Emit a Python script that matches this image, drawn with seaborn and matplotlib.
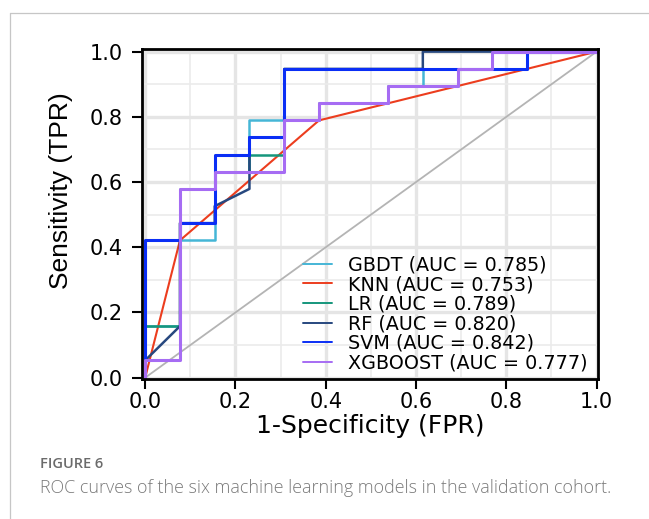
import matplotlib
matplotlib.use("Agg")
import matplotlib.pyplot as plt
import seaborn as sns
import numpy as np
import pandas as pd
from matplotlib import font_manager as fm
from matplotlib.lines import Line2D
from matplotlib.ticker import MultipleLocator

# ROC points (1-specificity, sensitivity) for each model on the validation cohort
models = ["GBDT", "KNN", "LR", "RF", "SVM", "XGBOOST"]
auc_values = [0.785, 0.753, 0.789, 0.820, 0.842, 0.777]

gbdt_fpr = [0, 0, 0.077, 0.077, 0.154, 0.154, 0.231, 0.231, 0.385, 0.385, 0.538, 0.538, 0.615, 0.615, 0.846, 0.846, 1]
gbdt_tpr = [0, 0.158, 0.158, 0.421, 0.421, 0.632, 0.632, 0.789, 0.789, 0.842, 0.842, 0.895, 0.895, 0.947, 0.947, 1, 1]

knn_fpr = [0, 0.077, 0.385, 1]
knn_tpr = [0, 0.421, 0.789, 1]

lr_fpr = [0, 0, 0.077, 0.077, 0.154, 0.154, 0.231, 0.231, 0.308, 0.308, 0.385, 0.385, 0.538, 0.538, 0.692, 0.692, 0.769, 0.769, 1]
lr_tpr = [0, 0.158, 0.158, 0.579, 0.579, 0.632, 0.632, 0.684, 0.684, 0.789, 0.789, 0.842, 0.842, 0.895, 0.895, 0.947, 0.947, 1, 1]

rf_fpr = [0, 0, 0.077, 0.077, 0.154, 0.154, 0.231, 0.231, 0.308, 0.308, 0.615, 0.615, 1]
rf_tpr = [0, 0.053, 0.158, 0.474, 0.474, 0.526, 0.579, 0.737, 0.737, 0.947, 0.947, 1, 1]

svm_fpr = [0, 0, 0.077, 0.077, 0.154, 0.154, 0.231, 0.231, 0.308, 0.308, 0.846, 0.846, 1]
svm_tpr = [0, 0.421, 0.421, 0.474, 0.474, 0.684, 0.684, 0.737, 0.737, 0.947, 0.947, 1, 1]

xgb_fpr = [0, 0, 0.077, 0.077, 0.154, 0.154, 0.308, 0.308, 0.385, 0.385, 0.538, 0.538, 0.692, 0.692, 0.769, 0.769, 1]
xgb_tpr = [0, 0.053, 0.053, 0.579, 0.579, 0.632, 0.632, 0.789, 0.789, 0.842, 0.842, 0.895, 0.895, 0.947, 0.947, 1, 1]

tick_values = [0.0, 0.2, 0.4, 0.6, 0.8, 1.0]

fpr_lists = [gbdt_fpr, knn_fpr, lr_fpr, rf_fpr, svm_fpr, xgb_fpr]
tpr_lists = [gbdt_tpr, knn_tpr, lr_tpr, rf_tpr, svm_tpr, xgb_tpr]

colors = {"GBDT": "#45b6d6", "KNN": "#ec3d1e", "LR": "#15967c",
          "RF": "#27487f", "SVM": "#0a2ef5", "XGBOOST": "#a66cf3"}
widths = {"GBDT": 1.8, "KNN": 1.5, "LR": 1.8, "RF": 1.8, "SVM": 2.2, "XGBOOST": 2.2}

sns.set_theme(style="white")
plt.rcParams["font.family"] = ["DejaVu Sans"]

available = {f.name for f in fm.fontManager.ttflist}
ylabel_family = "Liberation Sans" if "Liberation Sans" in available else "DejaVu Sans"
caption_family = "Open Sans" if "Open Sans" in available else "DejaVu Sans"

frames = []
for name, fpr, tpr in zip(models, fpr_lists, tpr_lists):
    frames.append(pd.DataFrame({"model": name, "fpr": fpr, "tpr": tpr}))
df = pd.concat(frames, ignore_index=True)

fig = plt.figure(figsize=(6.49, 5.19), dpi=100)
ax = fig.add_axes([142 / 649, 1 - 379 / 519, 456 / 649, 330 / 519])

# chance line
ax.plot([0, 1], [0, 1], color="#b4b4b4", lw=1.3, zorder=1.5)

for i, name in enumerate(models):
    sub = df[df["model"] == name]
    sns.lineplot(data=sub, x="fpr", y="tpr", sort=False, estimator=None,
                 color=colors[name], linewidth=widths[name], ax=ax,
                 legend=False, zorder=2 + i)

ax.set_xlim(-0.007, 1.003)
ax.set_ylim(-0.004, 1.008)
ax.set_xticks(tick_values)
ax.set_yticks(tick_values)
ax.set_xticklabels([f"{v:.1f}" for v in tick_values])
ax.set_yticklabels([f"{v:.1f}" for v in tick_values])
ax.xaxis.set_minor_locator(MultipleLocator(0.1))
ax.yaxis.set_minor_locator(MultipleLocator(0.1))
ax.set_axisbelow(True)
ax.grid(which="major", color="#e5e5e5", lw=2.4)
ax.grid(which="minor", color="#ebebeb", lw=1.2)
ax.tick_params(which="minor", length=0)
ax.tick_params(which="major", bottom=True, left=True, direction="out",
               length=7, width=1.5, color="black", labelsize=15,
               labelcolor="black")
ax.tick_params(axis="y", pad=7)
ax.tick_params(axis="x", pad=2)
for s in ax.spines.values():
    s.set_color("black")
    s.set_linewidth(2.0)
    s.set_zorder(10)

ax.set_xlabel("1-Specificity (FPR)", fontsize=18, color="black", labelpad=2)
ax.set_ylabel("Sensitivity (TPR)", fontsize=19, color="black",
              family=ylabel_family)
ax.yaxis.set_label_coords(-0.152, 0.57)

handles = [Line2D([0], [0], color=colors[m], lw=1.4) for m in models]
labels = [f"{m} (AUC = {a:.3f})" for m, a in zip(models, auc_values)]
ax.legend(handles, labels, loc="lower left", bbox_to_anchor=(0.353, 0.02),
          frameon=False, fontsize=13.75, handlelength=1.5, handletextpad=0.85,
          labelspacing=0.03, borderpad=0, borderaxespad=0, labelcolor="black")

# page frame
fig.add_artist(Line2D([9.5 / 649, 9.5 / 649], [0, 1 - 13 / 519],
                      transform=fig.transFigure, color="#c6c6c6", lw=0.9))
fig.add_artist(Line2D([9.5 / 649, 1], [1 - 13 / 519, 1 - 13 / 519],
                      transform=fig.transFigure, color="#c6c6c6", lw=0.9))

fig.text(40 / 649, 1 - 468 / 519, "FIGURE 6", fontsize=10.5, fontweight="semibold",
         color="#6b6b6b", family=caption_family, va="baseline")
fig.text(40 / 649, 1 - 493 / 519,
         "ROC curves of the six machine learning models in the validation cohort.",
         fontsize=12.9, fontweight="light", color="#7a7a7a", family=caption_family,
         va="baseline")

fig.savefig("out.png", dpi=100, facecolor="white")
